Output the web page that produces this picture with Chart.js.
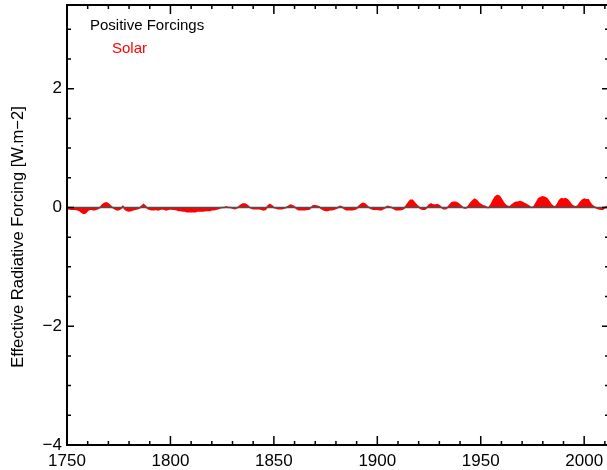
<!DOCTYPE html>
<html>
<head>
<meta charset="utf-8">
<script src="https://cdn.jsdelivr.net/npm/chart.js@4/dist/chart.umd.min.js"></script>
<style>
html,body{margin:0;padding:0;overflow:hidden;background:#fff;width:607px;height:470px;}
#wrap{width:609px;height:470px;}
</style>
</head>
<body>
<div id="wrap"><canvas id="c" width="609" height="470"></canvas></div>
<script>
// ---- data ----
const startYear = 1750;
const solar = [
 -0.02,-0.02,-0.03,-0.03,-0.03,-0.04,-0.05,-0.08,-0.10,-0.09,
 -0.05,-0.03,-0.03,-0.04,-0.03,-0.02,0.00,0.04,0.07,0.08,
 0.06,0.03,0.00,-0.02,-0.04,-0.04,-0.02,0.02,-0.03,-0.05,
 -0.06,-0.05,-0.04,-0.03,-0.02,-0.01,0.02,0.05,0.02,-0.02,
 -0.03,-0.04,-0.04,-0.03,-0.04,-0.03,-0.02,-0.03,-0.04,-0.03,
 -0.02,-0.03,-0.03,-0.04,-0.05,-0.05,-0.06,-0.06,-0.07,-0.07,
 -0.07,-0.07,-0.07,-0.06,-0.06,-0.06,-0.06,-0.05,-0.05,-0.05,
 -0.04,-0.04,-0.03,-0.02,-0.01,0.00,0.00,0.01,0.00,0.00,
 -0.01,-0.02,-0.01,0.01,0.04,0.06,0.06,0.04,0.01,-0.01,
 -0.02,-0.02,-0.02,-0.02,-0.03,-0.04,-0.03,0.02,0.05,0.03,
 0.00,-0.01,-0.02,-0.02,-0.02,-0.01,0.00,0.02,0.04,0.03,
 0.01,-0.02,-0.04,-0.04,-0.04,-0.04,-0.03,-0.03,0.00,0.03,
 0.03,0.02,0.01,-0.02,-0.04,-0.05,-0.05,-0.04,-0.04,-0.03,
 -0.02,0.00,0.02,0.01,-0.02,-0.04,-0.04,-0.04,-0.04,-0.03,
 -0.02,0.02,0.05,0.07,0.06,0.03,0.00,-0.02,-0.03,-0.03,
 -0.03,-0.04,-0.04,-0.02,0.00,0.02,0.01,0.00,-0.02,-0.04,
 -0.04,-0.04,-0.03,-0.01,0.03,0.08,0.12,0.12,0.08,0.04,
 0.01,-0.02,-0.03,-0.03,0.00,0.04,0.06,0.04,0.04,0.05,
 0.03,0.00,-0.02,-0.02,0.00,0.04,0.08,0.09,0.09,0.07,
 0.04,0.01,-0.01,-0.01,0.02,0.07,0.11,0.14,0.12,0.08,
 0.05,0.03,0.02,0.00,0.00,0.05,0.12,0.18,0.20,0.19,
 0.14,0.08,0.04,0.02,0.01,0.04,0.07,0.09,0.09,0.10,
 0.09,0.07,0.05,0.03,0.01,0.00,0.03,0.09,0.15,0.17,
 0.18,0.17,0.15,0.10,0.05,0.02,0.01,0.05,0.12,0.15,
 0.14,0.15,0.13,0.09,0.04,0.02,0.01,0.03,0.08,0.12,
 0.14,0.13,0.13,0.07,0.03,0.01,-0.01,-0.02,-0.03,-0.03,
 0.00,0.02
];
const years = solar.map((_, i) => startYear + i);
const xTickLabels = [1750, 1800, 1850, 1900, 1950, 2000];
const yTickLabels = [-4, -2, 0, 2];
const legendTitle = "Positive Forcings";
const seriesName = "Solar";
const yAxisTitle = "Effective Radiative Forcing [W.m\u22122]";

const FONT = "'Liberation Sans', Arial, Helvetica, sans-serif";

const decor = {
  id: 'decor',
  afterDatasetsDraw(chart) {
    const {ctx, chartArea: a, scales: {x, y}} = chart;
    ctx.save();
    // zero line
    const y0 = y.getPixelForValue(0);
    ctx.strokeStyle = '#505050';
    ctx.lineWidth = 1.5;
    ctx.beginPath(); ctx.moveTo(a.left, y0); ctx.lineTo(a.right, y0); ctx.stroke();
    // frame (left, top, bottom; right spine lies outside the picture)
    ctx.strokeStyle = '#000';
    ctx.lineWidth = 2;
    ctx.beginPath();
    ctx.moveTo(a.right + 2, a.top); ctx.lineTo(a.left, a.top);
    ctx.lineTo(a.left, a.bottom); ctx.lineTo(a.right + 2, a.bottom);
    ctx.stroke();
    // ticks (inward)
    ctx.lineWidth = 1.5;
    ctx.beginPath();
    for (let v = 1750; v <= x.max; v += 10) {
      const px = x.getPixelForValue(v);
      const len = (v % 50 === 0) ? 9 : 4;
      ctx.moveTo(px, a.bottom); ctx.lineTo(px, a.bottom - len);
      ctx.moveTo(px, a.top); ctx.lineTo(px, a.top + len);
    }
    for (let v = -4; v <= y.max; v += 0.5) {
      const py = y.getPixelForValue(v);
      const len = (Math.abs(v % 2) < 1e-9) ? 7 : 4;
      ctx.moveTo(a.left, py); ctx.lineTo(a.left + len, py);
      ctx.moveTo(a.right, py); ctx.lineTo(a.right - len, py);
    }
    ctx.stroke();
    // legend text
    ctx.font = "15px " + FONT;
    ctx.textBaseline = 'alphabetic';
    ctx.textAlign = 'left';
    ctx.fillStyle = '#000';
    ctx.fillText(legendTitle, 90, 30);
    ctx.fillStyle = '#ff0000';
    ctx.fillText(seriesName, 112, 52.5);
    // y axis title
    ctx.save();
    ctx.translate(18, 237);
    ctx.rotate(-Math.PI / 2);
    ctx.font = "16.5px " + FONT;
    ctx.fillStyle = '#000';
    ctx.textAlign = 'center';
    ctx.textBaseline = 'middle';
    ctx.fillText(yAxisTitle, 0, 0);
    ctx.restore();
    ctx.restore();
  }
};

new Chart(document.getElementById('c'), {
  type: 'line',
  data: {
    labels: years,
    datasets: [{
      label: seriesName,
      data: years.map((yr, i) => ({x: yr, y: solar[i]})),
      borderColor: '#ff0000',
      backgroundColor: '#ff0000',
      borderWidth: 1.5,
      pointRadius: 0,
      fill: 'origin',
      tension: 0
    }]
  },
  options: {
    responsive: false,
    animation: false,
    layout: {padding: {top: 5, left: 0, right: 0, bottom: 0}},
    plugins: {legend: {display: false}, tooltip: {enabled: false}},
    scales: {
      x: {
        type: 'linear',
        min: 1750, max: 2012,
        grid: {display: false, drawTicks: false},
        border: {display: false},
        afterFit(s) { s.height = 25; s.paddingLeft = 0; s.paddingRight = 0; },
        afterBuildTicks(s) { s.ticks = xTickLabels.map(v => ({value: v})); },
        ticks: {
          padding: 6,
          color: '#000',
          font: {family: FONT, size: 17},
          maxRotation: 0,
          autoSkip: false,
          callback: v => String(v)
        }
      },
      y: {
        min: -4, max: 3.41,
        grid: {display: false, drawTicks: false},
        border: {display: false},
        afterFit(s) { s.width = 67; s.paddingTop = 0; s.paddingBottom = 0; },
        afterBuildTicks(s) { s.ticks = yTickLabels.map(v => ({value: v})); },
        ticks: {
          padding: 5,
          color: '#000',
          font: {family: FONT, size: 17},
          callback: v => v < 0 ? '\u2212' + Math.abs(v) : String(v)
        }
      }
    }
  },
  plugins: [decor]
});
</script>
</body>
</html>
